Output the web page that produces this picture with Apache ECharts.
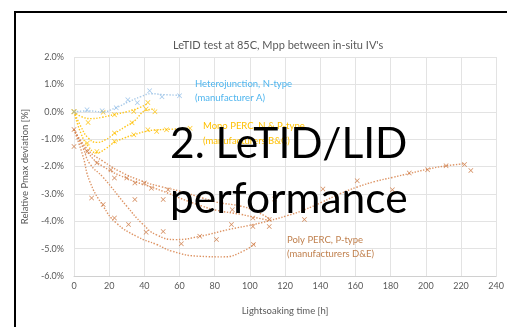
<!DOCTYPE html>
<html>
<head>
<meta charset="utf-8">
<script src="https://cdn.jsdelivr.net/npm/echarts@6/dist/echarts.min.js"></script>
<style>
  html, body { margin: 0; padding: 0; background: #ffffff; }
  #chart { width: 507px; height: 327px; }
</style>
</head>
<body>
<div id="chart"></div>
<script>
// Lightsoaking time [h] vs relative Pmax deviation [%]

const xTicks = [0, 20, 40, 60, 80, 100, 120, 140, 160, 180, 200, 220, 240];
const yTicks = [-6, -5, -4, -3, -2, -1, 0, 1, 2];

// Heterojunction, N-type (manufacturer A)
const hetPoints = [[0, 0], [7.4, 0.07], [16, 0.04], [24, 0.15], [30.6, 0.44], [36, 0.33], [43, 0.77], [50, 0.55], [60, 0.58]];
const hetTrend = [[0, 0], [8, 0.03], [16, 0.0], [24, 0.15], [31, 0.36], [38, 0.55], [44, 0.66], [50, 0.63], [60, 0.6]];

// Mono PERC, N & P-type (manufacturers B&C)
const monoAPoints = [[0, 0], [8, -0.39], [16.6, -0.02], [23, -0.11], [34, 0.01], [42, 0.34]];
const monoATrend = [[0, 0], [5, -0.2], [10, -0.25], [16, -0.2], [23, -0.1], [30, 0.0], [36, 0.12], [42, 0.3]];
const monoBPoints = [[0, 0], [23, -0.78], [33, -0.4], [41, 0.1], [46, 0.0]];
const monoBTrend = [[0, 0], [4, -0.55], [8, -0.95], [13, -1.12], [18, -1.02], [23, -0.8], [29, -0.55], [34, -0.35], [41, 0.05], [46, 0.1]];
const monoCPoints = [[0, 0], [7.6, -1.14], [13, -1.45], [23, -1.08], [34, -0.84], [42, -0.66], [47, -0.72], [52.6, -0.66], [66, -0.6]];
const monoCTrend = [[0, 0], [4, -0.8], [8, -1.25], [13, -1.5], [18, -1.35], [23, -1.12], [29, -0.95], [34, -0.84], [42, -0.7], [48, -0.66], [55, -0.64], [66, -0.6]];

// Poly PERC, P-type (manufacturers D&E)
const polyLongPoints = [[0, -0.65], [50.7, -4.37], [71.5, -4.55], [81, -4.67], [89.5, -4.12], [101.7, -4.19], [111, -4.19], [131, -3.94], [141.5, -2.82], [161, -2.52], [181, -2.85], [190.6, -2.24], [201, -2.12], [211.5, -1.97], [222, -1.93], [225.6, -2.15]];
const polyLongTrend = [[0, -0.65], [5, -1.3], [9, -1.9], [16.6, -2.4], [30, -3.45], [39, -4.1], [47, -4.5], [58, -4.67], [71.5, -4.55], [88, -4.3], [102, -4.12], [111, -3.98], [121, -3.8], [131, -3.58], [141, -3.3], [151, -3.0], [161, -2.75], [171, -2.55], [181, -2.4], [191, -2.25], [201, -2.1], [211, -1.98], [222, -1.9]];
const polyDeepPoints = [[0, -1.27], [10, -3.15], [16.6, -3.39], [23, -3.88], [31, -4.12], [41, -4.4], [61, -4.82], [102, -4.85]];
const polyDeepTrend = [[0, -0.65], [5, -1.6], [9, -2.55], [16.6, -3.45], [24, -4.06], [35.5, -4.55], [47, -4.85], [56, -5.1], [71.5, -5.28], [85, -5.3], [96, -5.1], [103, -4.8]];
const polyUpperPoints = [[7.6, -1.45], [13, -1.87], [21, -2.12], [34.6, -2.6], [40, -2.6], [53.5, -2.85], [90, -3.58], [101.7, -3.88], [114, -3.19]];
const polyUpperTrend = [[0, -0.65], [8, -1.4], [16.6, -1.81], [26, -2.18], [39, -2.54], [49, -2.73], [60, -2.9], [73, -3.15], [81, -3.3], [95, -3.45], [102, -3.6], [111, -3.9]];
const polyMidPoints = [[23, -2.42], [30, -2.42], [34.6, -3.21], [44, -2.79], [50.7, -3.21], [111, -3.94]];
const polyMidTrend = [[0, -0.65], [8, -1.5], [16.6, -2.0], [31.8, -2.48], [43, -2.73], [54.5, -3.0], [60, -3.15], [73, -3.45], [81, -3.6], [95, -3.75], [102, -3.85], [111, -3.97]];

const BLUE_MARK = '#8FBCE8';
const BLUE_LINE = '#9DC3E6';
const YELLOW = '#FFC000';
const ORANGE_MARK = '#CD7842';
const ORANGE_LINE = '#D98752';
const TEXT_GREY = '#595959';
const FONT = 'Lato, "Open Sans", sans-serif';

// small diagonal cross used as the point marker
const CROSS = 'path://M0,1L1,0L5,4L9,0L10,1L6,5L10,9L9,10L5,6L1,10L0,9L4,5Z';

function points(data, color) {
  return {
    type: 'scatter', data: data, symbol: CROSS, symbolSize: 5,
    itemStyle: { color: color, opacity: 0.85 }, z: 3, silent: true
  };
}
function trend(data, color) {
  return {
    type: 'line', data: data, smooth: 0.5, showSymbol: false,
    lineStyle: { color: color, width: 1.4, type: [1.4, 1.6], opacity: 0.9 }, z: 2, silent: true
  };
}

const chart = echarts.init(document.getElementById('chart'), null, { renderer: 'canvas' });

chart.setOption({
  animation: false,
  backgroundColor: '#ffffff',
  title: {
    text: "LeTID test at 85C, Mpp between in-situ IV's",
    left: 168, top: 35,
    textStyle: { fontFamily: FONT, fontSize: 11, fontWeight: 'normal', color: TEXT_GREY }
  },
  grid: { left: 74, top: 57, width: 423, height: 219, containLabel: false },
  xAxis: {
    type: 'value', min: xTicks[0], max: xTicks[xTicks.length - 1], interval: xTicks[1] - xTicks[0],
    name: 'Lightsoaking time [h]', nameLocation: 'middle', nameGap: 30,
    nameTextStyle: { fontFamily: FONT, fontSize: 9.5, color: TEXT_GREY },
    axisLine: { show: true, onZero: false, lineStyle: { color: '#D0D0D0', width: 1 } },
    axisTick: { show: false },
    axisLabel: { fontFamily: FONT, fontSize: 9, color: TEXT_GREY, margin: 6 },
    splitLine: { show: true, lineStyle: { color: '#E3E3E3', width: 1 } }
  },
  yAxis: {
    type: 'value', min: yTicks[0], max: yTicks[yTicks.length - 1], interval: yTicks[1] - yTicks[0],
    name: 'Relative Pmax deviation [%]', nameLocation: 'middle', nameGap: 42, nameRotate: 90,
    nameTextStyle: { fontFamily: FONT, fontSize: 9.5, color: TEXT_GREY },
    axisLine: { show: false },
    axisTick: { show: false },
    axisLabel: { fontFamily: FONT, fontSize: 9, color: TEXT_GREY, margin: 10,
      formatter: v => v.toFixed(1) + '%' },
    splitLine: { show: true, lineStyle: { color: '#E3E3E3', width: 1 } }
  },
  series: [
    trend(polyLongTrend, ORANGE_LINE), points(polyLongPoints, ORANGE_MARK),
    trend(polyDeepTrend, ORANGE_LINE), points(polyDeepPoints, ORANGE_MARK),
    trend(polyUpperTrend, ORANGE_LINE), points(polyUpperPoints, ORANGE_MARK),
    trend(polyMidTrend, ORANGE_LINE), points(polyMidPoints, ORANGE_MARK),
    trend(monoATrend, YELLOW), points(monoAPoints, YELLOW),
    trend(monoBTrend, YELLOW), points(monoBPoints, YELLOW),
    trend(monoCTrend, YELLOW), points(monoCPoints, YELLOW),
    trend(hetTrend, BLUE_LINE), points(hetPoints, BLUE_MARK)
  ],
  graphic: [
    // slide frame
    { type: 'line', shape: { x1: 14, y1: 12, x2: 507, y2: 12 }, style: { stroke: '#000', lineWidth: 2 }, z: 10 },
    { type: 'line', shape: { x1: 15, y1: 11, x2: 15, y2: 327 }, style: { stroke: '#000', lineWidth: 2 }, z: 10 },
    // group labels
    { type: 'text', left: 195, top: 77, z: 20,
      style: { text: 'Heterojunction, N-type\n(manufacturer A)', fill: '#4FB5EE', font: '9.5px ' + FONT, lineHeight: 14 } },
    { type: 'text', left: 203, top: 118, z: 20,
      style: { text: 'Mono PERC, N & P-type\n(manufacturers B&C)', fill: YELLOW, font: '9.5px ' + FONT, lineHeight: 15 } },
    { type: 'text', left: 287, top: 233, z: 20,
      style: { text: 'Poly PERC, P-type\n(manufacturers D&E)', fill: '#C0804E', font: '9.5px ' + FONT, lineHeight: 14 } },
    // section heading
    { type: 'text', left: 170, top: 117, z: 30,
      style: { text: '2. LeTID/LID\nperformance', fill: '#000', font: '42.5px ' + FONT, lineHeight: 55 } }
  ]
});
</script>
</body>
</html>
